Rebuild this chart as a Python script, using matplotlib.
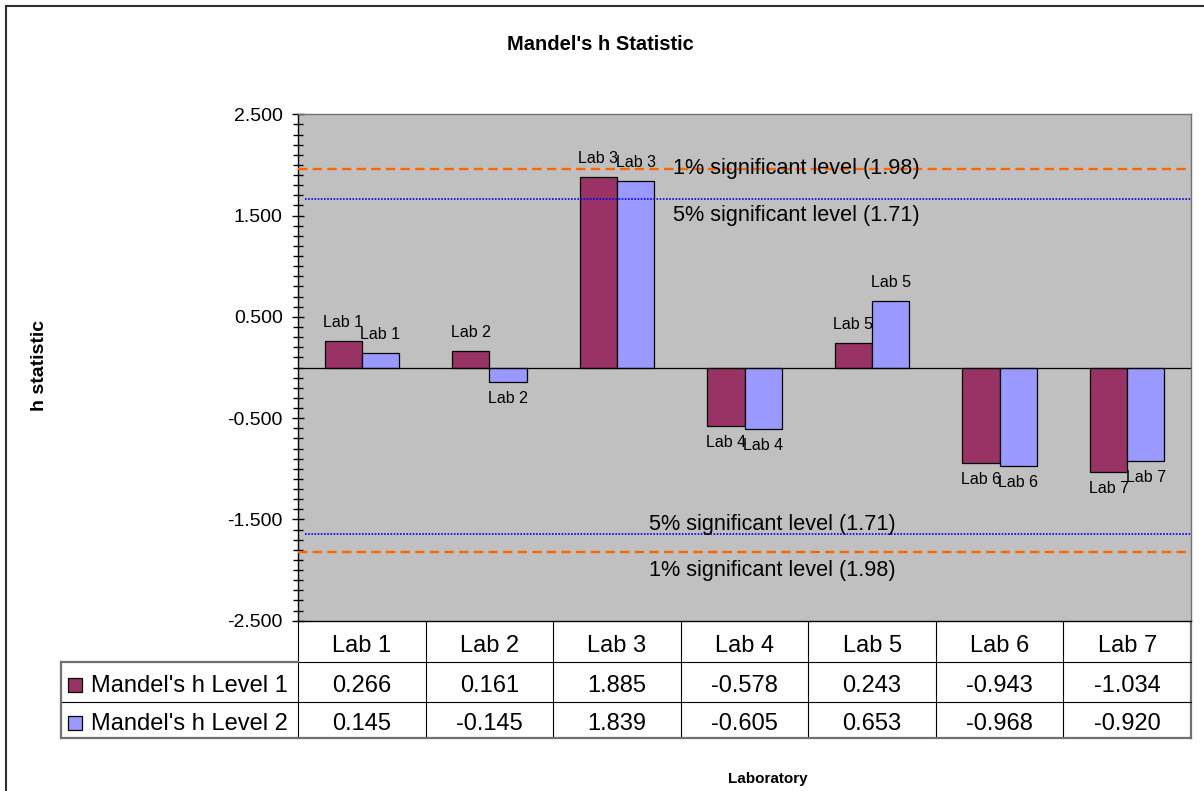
#!/usr/bin/env python3

# Mandel's h statistic per laboratory, Excel style column chart with data table

import matplotlib

matplotlib.use("Agg")
import matplotlib.pyplot as plt
import matplotlib.transforms as mtransforms
import numpy as np
from matplotlib.patches import Rectangle
from matplotlib.ticker import MultipleLocator

plt.rcParams["font.family"] = ["Liberation Sans", "DejaVu Sans"]

# data
labs = ["Lab 1", "Lab 2", "Lab 3", "Lab 4", "Lab 5", "Lab 6", "Lab 7"]
level1 = [0.266, 0.161, 1.885, -0.578, 0.243, -0.943, -1.034]
level2 = [0.145, -0.145, 1.839, -0.605, 0.653, -0.968, -0.920]
series_names = ["Mandel's h Level 1", "Mandel's h Level 2"]

# significance lines, as they are drawn in the chart (top, bottom)
lines_1pct = [1.963, -1.821]
lines_5pct = [1.667, -1.640]
text_1pct = "1% significant level (1.98)"
text_5pct = "5% significant level (1.71)"

# colors
color_l1 = "#993366"
color_l2 = "#9999FF"
color_bg = "#C0C0C0"
color_orange = "#FF6600"
color_blue = "#0000FF"
color_frame = "#707070"

W, H = 1204, 791


def px_box(left, top, right, bottom):
    """Axes rectangle from pixel edges (top-left origin)."""
    return [left / W, 1 - bottom / H, (right - left) / W, (bottom - top) / H]


def main():
    fig = plt.figure(figsize=(W / 100, H / 100), dpi=100)

    # overlay in pixel coordinates for frame, titles and table
    ov = fig.add_axes([0, 0, 1, 1])
    ov.set_xlim(0, W)
    ov.set_ylim(H, 0)
    ov.axis("off")

    ax = fig.add_axes(px_box(298, 114.3, 1191, 620.7))
    ax.set_facecolor(color_bg)

    # bars
    x = np.arange(len(labs))
    w = 0.292
    bars1 = ax.bar(x - w / 2, level1, w, color=color_l1, edgecolor="black", linewidth=0.9, zorder=2)
    bars2 = ax.bar(x + w / 2, level2, w, color=color_l2, edgecolor="black", linewidth=0.9, zorder=2)

    # data labels
    for bars, vals in ((bars1, level1), (bars2, level2)):
        for b, v, lab in zip(bars, vals, labs):
            cx = b.get_x() + b.get_width() / 2
            if v >= 0:
                ax.annotate(lab, (cx, v), xytext=(0, 11), textcoords="offset pixels",
                            ha="center", va="bottom", fontsize=11.5, zorder=5)
            else:
                ax.annotate(lab, (cx, v), xytext=(0, -9), textcoords="offset pixels",
                            ha="center", va="top", fontsize=11.5, zorder=5)

    ax.axhline(0, color="black", linewidth=0.9, zorder=3)

    # significance lines
    ax.hlines(lines_1pct, -0.5, 6.5, colors=color_orange, linewidth=1.7,
              linestyles=(0, (4, 2.2)), zorder=4)
    ax.hlines(lines_5pct, -0.445, 6.5, colors=color_blue, linewidth=1.2,
              linestyles=(0, (1, 0.9)), zorder=4)
    ax.text(2.44, 1.908, text_1pct, fontsize=15.6, va="baseline", zorder=5)
    ax.text(2.44, 1.446, text_5pct, fontsize=15.6, va="baseline", zorder=5)
    ax.text(2.251, -1.605, text_5pct, fontsize=15.6, va="baseline", zorder=5)
    ax.text(2.251, -2.059, text_1pct, fontsize=15.6, va="baseline", zorder=5)

    # axes
    ax.set_xlim(-0.5, 6.5)
    ax.set_ylim(-2.5, 2.5)
    ax.set_xticks([])
    ax.set_yticks(np.arange(-2.5, 2.51, 1.0))
    ax.set_yticklabels([f"{t:.3f}" for t in np.arange(-2.5, 2.51, 1.0)])
    ax.yaxis.set_minor_locator(MultipleLocator(0.1))
    ax.tick_params(axis="y", which="major", direction="inout", length=8.4, width=1.0,
                   pad=6.8, labelsize=14)
    ax.tick_params(axis="y", which="minor", direction="inout", length=7.2, width=1.0)
    ax.spines["left"].set_color("black")
    ax.spines["bottom"].set_color("black")
    ax.spines["top"].set_color(color_frame)
    ax.spines["right"].set_color(color_frame)
    for s in ax.spines.values():
        s.set_linewidth(1.0)

    # data table below the plot
    tr = mtransforms.blended_transform_factory(ax.transData, ov.transData)
    y_top, y_r1, y_r2, y_bot = 620.7, 661.7, 701.7, 738.3
    legend_left = 61
    bounds = np.arange(len(labs) + 1) - 0.5
    inner = dict(color="black", linewidth=0.8)
    outer = dict(color=color_frame, linewidth=1.6)

    for b in bounds[:-1]:
        ov.plot([b, b], [y_top, y_bot], transform=tr, **inner)
    ov.plot([bounds[-1]] * 2, [y_top, y_bot], transform=tr, **outer)
    ov.plot([bounds[0], bounds[-1]], [y_r1, y_r1], transform=tr, **inner)
    ov.plot([bounds[0], bounds[-1]], [y_r2, y_r2], transform=tr, **inner)
    ov.plot([bounds[0], bounds[-1]], [y_bot, y_bot], transform=tr, **outer)
    ov.plot([legend_left, 298], [y_r1, y_r1], **outer)
    ov.plot([legend_left, 298], [y_r2, y_r2], **inner)
    ov.plot([legend_left, 298], [y_bot, y_bot], **outer)
    ov.plot([legend_left, legend_left], [y_r1, y_bot], **outer)

    for i, lab in enumerate(labs):
        ov.text(i, y_r1 - 10, lab, transform=tr, ha="center", va="baseline", fontsize=17)
    for base, vals in ((y_r2 - 10, level1), (y_bot - 8.3, level2)):
        for i, v in enumerate(vals):
            ov.text(i, base, f"{v:.3f}", transform=tr, ha="center", va="baseline", fontsize=17)

    for base, name, col in ((y_r2 - 10, series_names[0], color_l1),
                            (y_bot - 8.3, series_names[1], color_l2)):
        ov.add_patch(Rectangle((68.3, base - 14), 14, 14, facecolor=col,
                               edgecolor="black", linewidth=0.9))
        ov.text(91, base, name, ha="left", va="baseline", fontsize=17)

    # titles
    ov.text(600, 50, "Mandel's h Statistic", ha="center", va="baseline",
            fontsize=14.5, fontweight="bold")
    ov.text(39, 365, "h statistic", ha="center", va="center", rotation=90,
            fontsize=14, fontweight="bold")
    ov.text(768, 779, "Laboratory", ha="center", va="center", fontsize=11, fontweight="bold")

    # chart frame (left and top edges visible)
    ov.plot([6, 6, W], [H, 6, 6], color="#303030", linewidth=1.5, solid_joinstyle="miter")

    fig.savefig("out.png", dpi=100)


if __name__ == "__main__":
    main()
